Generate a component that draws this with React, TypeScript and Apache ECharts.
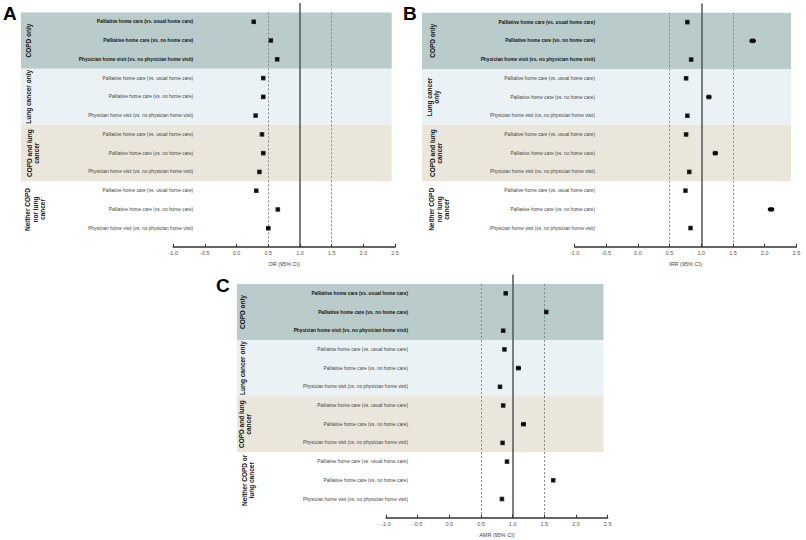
import React, { useEffect, useRef } from 'react';
import * as echarts from 'echarts';

const rowLabels = [
  'Palliative home care (vs. usual home care)',
  'Palliative home care (vs. no home care)',
  'Physician home visit (vs. no physician home visit)',
  'Palliative home care (vs. usual home care)',
  'Palliative home care (vs. no home care)',
  'Physician home visit (vs. no physician home visit)',
  'Palliative home care (vs. usual home care)',
  'Palliative home care (vs. no home care)',
  'Physician home visit (vs. no physician home visit)',
  'Palliative home care (vs. usual home care)',
  'Palliative home care (vs. no home care)',
  'Physician home visit (vs. no physician home visit)',
];

const groupsA = ['COPD only', 'Lung cancer only', 'COPD and lung\ncancer', 'Neither COPD\nnor lung\ncancer'];
const groupsB = ['COPD only', 'Lung cancer\nonly', 'COPD and lung\ncancer', 'Neither COPD\nnor lung\ncancer'];
const groupsC = ['COPD only', 'Lung cancer only', 'COPD and lung\ncancer', 'Neither COPD or\nlung cancer'];

// Odds ratios (panel A)
const orEst = [0.27, 0.54, 0.64, 0.42, 0.42, 0.30, 0.40, 0.42, 0.36, 0.31, 0.65, 0.50];
const orLo = [0.25, 0.52, 0.62, 0.40, 0.40, 0.28, 0.38, 0.40, 0.34, 0.29, 0.63, 0.47];
const orHi = [0.29, 0.56, 0.66, 0.44, 0.45, 0.32, 0.42, 0.45, 0.38, 0.33, 0.67, 0.53];

// Incidence rate ratios (panel B)
const irrEst = [0.78, 1.81, 0.84, 0.76, 1.12, 0.78, 0.76, 1.22, 0.81, 0.75, 2.10, 0.83];
const irrLo = [0.76, 1.76, 0.82, 0.74, 1.08, 0.76, 0.74, 1.18, 0.79, 0.73, 2.05, 0.81];
const irrHi = [0.80, 1.86, 0.86, 0.78, 1.16, 0.80, 0.78, 1.26, 0.83, 0.77, 2.15, 0.85];

// Adjusted mean ratios (panel C)
const amrEst = [0.89, 1.53, 0.85, 0.87, 1.09, 0.80, 0.85, 1.17, 0.84, 0.91, 1.64, 0.83];
const amrLo = [0.87, 1.51, 0.83, 0.85, 1.05, 0.78, 0.83, 1.13, 0.82, 0.89, 1.62, 0.81];
const amrHi = [0.91, 1.55, 0.87, 0.89, 1.13, 0.82, 0.87, 1.21, 0.86, 0.93, 1.66, 0.85];

const xMin = -1;
const xMax = 2.5;
const xInterval = 0.5;
const refSolid = 1;
const refDashed = [0.5, 1.5];
const bandEdges = [0.5, 3.5, 6.5, 9.5];
const bandColors = ['#b9cbca', '#ebf2f5', '#ebe6db'];
const groupRows = [2, 5, 8, 11];

const FONT = '"Liberation Sans", Arial, Helvetica, sans-serif';

const panels = [
  {
    letter: 'A', letterX: 3, letterY: 4,
    axisName: 'OR (95% CI)',
    est: orEst, lo: orLo, hi: orHi, groups: groupsA,
    main: { left: 173.2, top: 3, width: 221.9, height: 244 },
    bg: { left: 21, width: 370.7 },
    labelMargin: -20,
    groupX: [28.5, 28.5, 33, 35],
  },
  {
    letter: 'B', letterX: 403, letterY: 4,
    axisName: 'IRR (95% CI)',
    est: irrEst, lo: irrLo, hi: irrHi, groups: groupsB,
    main: { left: 574.5, top: 3.4, width: 221.9, height: 243.4 },
    bg: { left: 422, width: 369 },
    labelMargin: -20.5,
    groupX: [432, 433, 436, 439],
  },
  {
    letter: 'C', letterX: 216, letterY: 276,
    axisName: 'AMR (95% CI)',
    est: amrEst, lo: amrLo, hi: amrHi, groups: groupsC,
    main: { left: 386, top: 274.6, width: 221.7, height: 243.1 },
    bg: { left: 237, width: 366.5 },
    labelMargin: -22,
    groupX: [242, 242, 245, 248],
  },
];

const App = () => {
  const ref = useRef<HTMLDivElement>(null);
  useEffect(() => {
    const chart = echarts.init(ref.current as HTMLDivElement, null, { renderer: 'svg' });
    const grid: any[] = [];
    const xAxis: any[] = [];
    const yAxis: any[] = [];
    const series: any[] = [];
    const graphic: any[] = [];

    panels.forEach((p, i) => {
      const bgIdx = 2 * i;
      const mainIdx = 2 * i + 1;
      grid.push({
        left: p.bg.left, top: p.main.top, width: p.bg.width, height: p.main.height,
        containLabel: false, outerBoundsMode: 'none',
      });
      grid.push({
        left: p.main.left, top: p.main.top, width: p.main.width, height: p.main.height,
        containLabel: false, outerBoundsMode: 'none',
      });
      xAxis.push({ gridIndex: bgIdx, type: 'value', min: 0, max: 1, show: false });
      yAxis.push({ gridIndex: bgIdx, type: 'value', min: 0, max: 13, inverse: true, show: false });
      xAxis.push({
        gridIndex: mainIdx, type: 'value', position: 'bottom',
        min: xMin, max: xMax, interval: xInterval, z: 10,
        name: p.axisName, nameLocation: 'middle', nameGap: 14,
        nameTextStyle: { fontSize: 5.5, color: '#444', fontFamily: FONT },
        axisLine: { show: true, onZero: false, lineStyle: { color: '#333', width: 1.5 } },
        axisTick: { show: true, inside: true, length: 3, lineStyle: { color: '#333', width: 1 } },
        axisLabel: {
          fontSize: 5.5, color: '#555', margin: 3, fontFamily: FONT,
          formatter: (v: number) => v.toFixed(1),
        },
        splitLine: { show: false },
      });
      yAxis.push({
        gridIndex: mainIdx, type: 'value', position: 'left',
        min: 0, max: 13, interval: 1, inverse: true, z: 10,
        axisLine: { show: false, onZero: false }, axisTick: { show: false }, splitLine: { show: false },
        axisLabel: {
          margin: p.labelMargin,
          formatter: (v: number) => {
            const k = Math.round(v) - 1;
            if (k < 0 || k >= rowLabels.length) return '';
            return `{${k < 3 ? 'b' : 'n'}|${rowLabels[k]}}`;
          },
          rich: {
            b: { fontSize: 4.8, fontWeight: 'bold', color: '#151515', fontFamily: FONT },
            n: { fontSize: 4.8, color: '#444', fontFamily: FONT },
          },
        },
      });

      series.push({
        type: 'scatter', xAxisIndex: bgIdx, yAxisIndex: bgIdx, data: [], silent: true, z: 1,
        markArea: {
          silent: true,
          data: bandColors.map((c, b) => [
            { yAxis: bandEdges[b], itemStyle: { color: c } },
            { yAxis: bandEdges[b + 1] },
          ]),
        },
      });

      series.push({
        type: 'custom', xAxisIndex: mainIdx, yAxisIndex: mainIdx, z: 6, silent: true,
        data: p.lo.map((l, k) => [l, p.hi[k], k + 1]),
        encode: { x: [0, 1], y: 2 },
        renderItem: (_params: any, api: any) => {
          const a = api.coord([api.value(0), api.value(2)]);
          const b = api.coord([api.value(1), api.value(2)]);
          return {
            type: 'line',
            shape: { x1: a[0], y1: a[1], x2: b[0], y2: b[1] },
            style: { stroke: '#000', lineWidth: 2.6 },
          };
        },
      });

      series.push({
        type: 'scatter', xAxisIndex: mainIdx, yAxisIndex: mainIdx, z: 7, silent: true,
        symbol: 'rect', symbolSize: 4.6,
        itemStyle: { color: '#000' },
        data: p.est.map((v, k) => [v, k + 1]),
        markLine: {
          silent: true, symbol: 'none', label: { show: false },
          data: [
            [
              { coord: [refSolid, 0], lineStyle: { color: '#555', width: 1.5, type: 'solid' } },
              { coord: [refSolid, 13] },
            ],
            ...refDashed.map((d) => [
              { coord: [d, 0.5], lineStyle: { color: '#888', width: 1, type: [2, 2] } },
              { coord: [d, 13] },
            ]),
          ],
        },
      });

      graphic.push({
        type: 'text', left: p.letterX, top: p.letterY, z: 20,
        style: { text: p.letter, font: `bold 19px ${FONT}`, fill: '#000' },
      });
      const rowH = p.main.height / 13;
      p.groups.forEach((g, gi) => {
        graphic.push({
          type: 'text', z: 20,
          x: p.groupX[gi], y: p.main.top + groupRows[gi] * rowH,
          rotation: Math.PI / 2,
          style: {
            text: g, fill: '#111', fontFamily: FONT, fontSize: 6.5, fontWeight: 'bold',
            lineHeight: 7.5, align: 'center', verticalAlign: 'middle',
          },
        });
      });
    });

    chart.setOption({
      animation: false,
      backgroundColor: '#fff',
      textStyle: { fontFamily: FONT },
      grid, xAxis, yAxis, series, graphic,
    });
    return () => chart.dispose();
  }, []);
  return (
    <div
      ref={ref}
      style={{ position: 'absolute', left: 0, top: 0, width: 806, height: 540, background: '#fff' }}
    />
  );
};

export default App;
